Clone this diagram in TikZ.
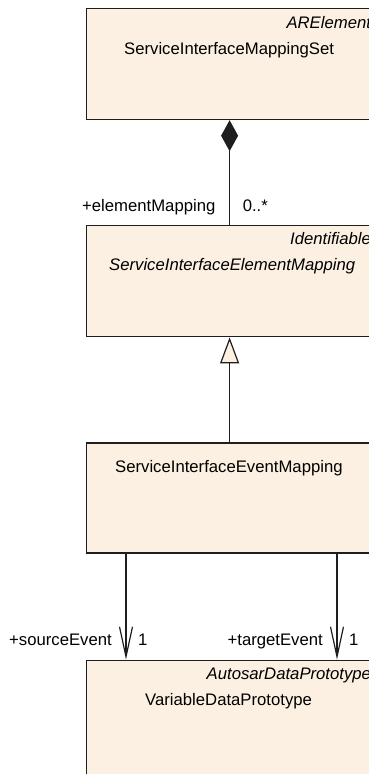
\documentclass[tikz,border=0pt]{standalone}
\usepackage{fontspec}
\setmainfont{Liberation Sans}
\usetikzlibrary{arrows.meta}
\definecolor{classfill}{RGB}{251,240,225}
\definecolor{classline}{RGB}{30,30,30}

\begin{document}
\begin{tikzpicture}[x=1pt,y=-1pt,
  font=\fontsize{16.7}{20}\selectfont,
  classbox/.style={draw=classline,fill=classfill,line width=1.2pt,anchor=north west,
    minimum width=286pt,minimum height=111pt,inner sep=0pt},
  stereo/.style={anchor=base east,inner sep=0pt,font=\fontsize{16.7}{20}\selectfont\itshape},
  classname/.style={anchor=base west,inner sep=0pt},
  rolename/.style={anchor=base east,inner sep=0pt},
  multname/.style={anchor=base west,inner sep=0pt},
  assoc/.style={draw=classline,line width=1.2pt}]
\useasboundingbox (0,0) rectangle (369,774);
\clip (0,0) rectangle (369,774);
%
\draw (86,8) node[classbox] (mappingSet) {};
\draw (mappingSet.north east) ++ (-2,20) node[stereo] (mappingSetStereo) {ARElement};
\draw (mappingSet.north west) ++ (38,46) node[classname] (mappingSetName) {ServiceInterfaceMappingSet};
%
\draw (mappingSet.south west) ++ (0,105) node[classbox] (elemMapping) {};
\draw (elemMapping.north east) ++ (-2,19) node[stereo] (elemMappingStereo) {Identifiable};
\draw (elemMapping.north west) ++ (23,45) node[classname,font=\fontsize{16.7}{20}\selectfont\itshape]
  (elemMappingName) {ServiceInterfaceElementMapping};
\path[assoc,{Diamond[length=31pt,width=17pt]}-] (mappingSet) -- (elemMapping);
\draw (elemMapping.north) ++ (-14,-14) node[rolename] (elemMappingRole) {+elementMapping};
\draw (elemMapping.north) ++ (13,-14) node[multname] (elemMappingMult) {0..*};
%
\draw (elemMapping.south west) ++ (0,105) node[classbox,minimum height=110pt] (eventMapping) {};
\draw (eventMapping.north west) ++ (29,30) node[classname] (eventMappingName) {ServiceInterfaceEventMapping};
\path[assoc,-{Triangle[length=26pt,width=19pt,fill=classfill]}] (eventMapping) -- (elemMapping);
%
\draw (eventMapping.south west) ++ (0,106) node[classbox,minimum height=130pt] (dataProto) {};
\draw (dataProto.north east) ++ (-2,20) node[stereo] (dataProtoStereo) {AutosarDataPrototype};
\draw (dataProto.north west) ++ (59,46) node[classname] (dataProtoName) {VariableDataPrototype};
%
\draw (eventMapping.south west) ++ (40,0) coordinate (sourceFrom);
\draw (dataProto.north west) ++ (40,0) coordinate (sourceTo);
\path[assoc,-{Straight Barb[length=30pt,width=13pt]}] (sourceFrom) -- (sourceTo);
\draw (sourceTo) ++ (-14,-14) node[rolename] (sourceRole) {+sourceEvent};
\draw (sourceTo) ++ (12,-14) node[multname] (sourceMult) {1};
%
\draw (eventMapping.south west) ++ (251,0) coordinate (targetFrom);
\draw (dataProto.north west) ++ (251,0) coordinate (targetTo);
\path[assoc,-{Straight Barb[length=30pt,width=13pt]}] (targetFrom) -- (targetTo);
\draw (targetTo) ++ (-14,-14) node[rolename] (targetRole) {+targetEvent};
\draw (targetTo) ++ (12,-14) node[multname] (targetMult) {1};
\end{tikzpicture}
\end{document}
